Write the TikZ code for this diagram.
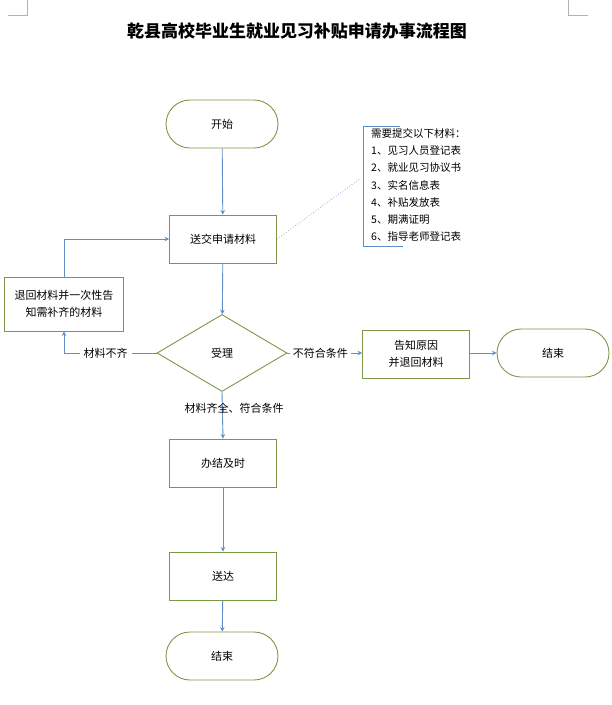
\documentclass[tikz,border=0pt]{standalone}
\usepackage{fontspec}
\newfontfamily\cjk{Noto Sans CJK SC}
\usetikzlibrary{arrows.meta,shapes.geometric}

\definecolor{boxgreen}{RGB}{122,152,72}
\definecolor{linkblue}{RGB}{96,142,198}

\tikzset{
  box/.style={draw=boxgreen,line width=0.9pt,minimum width=107pt,minimum height=48pt,font=\cjk\fontsize{11}{17}\selectfont,align=center,inner sep=1pt},
  stadium/.style={draw=boxgreen,line width=0.9pt,rounded corners=24pt,minimum width=112pt,minimum height=48pt,font=\cjk\fontsize{11}{17}\selectfont},
  decision/.style={draw=boxgreen,line width=0.9pt,diamond,aspect=1.69,minimum width=130pt,minimum height=77pt,inner sep=0pt,font=\cjk\fontsize{11}{17}\selectfont},
  flow/.style={draw=linkblue,line width=0.9pt,-{Stealth[length=4.5pt,width=4.5pt]}},
  lbl/.style={font=\cjk\fontsize{11}{17}\selectfont,inner sep=1pt}
}

\begin{document}
\begin{tikzpicture}[x=1pt,y=-1pt]
  \useasboundingbox (0,0) rectangle (612,705);
  % page corner marks
  \draw[gray!60,thick] (8,15)--(27,15)--(27,0);
  \draw[gray!60,thick] (588,15)--(568,15)--(568,0);
  \node[font=\cjk\bfseries\fontsize{17}{20}\selectfont] (title) at (297,31){乾县高校毕业生就业见习补贴申请办事流程图};

  % main column
  \node[stadium] (start) at (222,124){开始};
  \node[box] (submit) at (223,239){送交申请材料};
  \node[decision] (accept) at (222,353){受理};
  \node[box] (finish) at (223,463){办结及时};
  \node[box] (deliver) at (223,576){送达};
  \node[stadium] (stop) at (222,656){结束};

  % side boxes
  \node[box,minimum width=119pt,minimum height=54pt] (back) at (64,304){退回材料并一次性告\\知需补齐的材料};
  \node[box] (notify) at (416,354){告知原因\\并退回材料};
  \node[stadium] (stopright) at (553,353){结束};

  % note with list
  \node[lbl,anchor=north west,align=left,font=\cjk\fontsize{10.5}{17.3}\selectfont] (note) at (370,127)
    {需要提交以下材料：\\1、见习人员登记表\\2、就业见习协议书\\3、实名信息表\\4、补贴发放表\\5、期满证明\\6、指导老师登记表};
  \draw[linkblue,line width=0.9pt] (400,126)--(363,126)--(363,246)--(403,246);
  \coordinate (notetip) at (361,178);
  \draw[linkblue!70,dotted,thick] (submit.east)--(notetip);

  % connectors
  \draw[flow] (start)--(submit);
  \draw[flow] (submit)--(accept);
  \draw[flow] (accept.south)--(finish.north);
  \node[lbl] (okay) at (234,408){材料齐全、符合条件};
  \draw[flow] (finish)--(deliver);
  \draw[flow] (deliver)--(stop);
  \draw[flow] (accept.west)--node[lbl,fill=white,inner xsep=4pt,pos=.55]{材料不齐}(64,353)--(back.south);
  \draw[flow] (back.north)|-(submit.west);
  \draw[flow] (accept.east)--node[lbl,fill=white,inner xsep=3pt,pos=.44]{不符合条件}(notify.west|-accept.east);
  \draw[flow] (notify.east|-stopright.west)--(stopright.west);
\end{tikzpicture}
\end{document}
